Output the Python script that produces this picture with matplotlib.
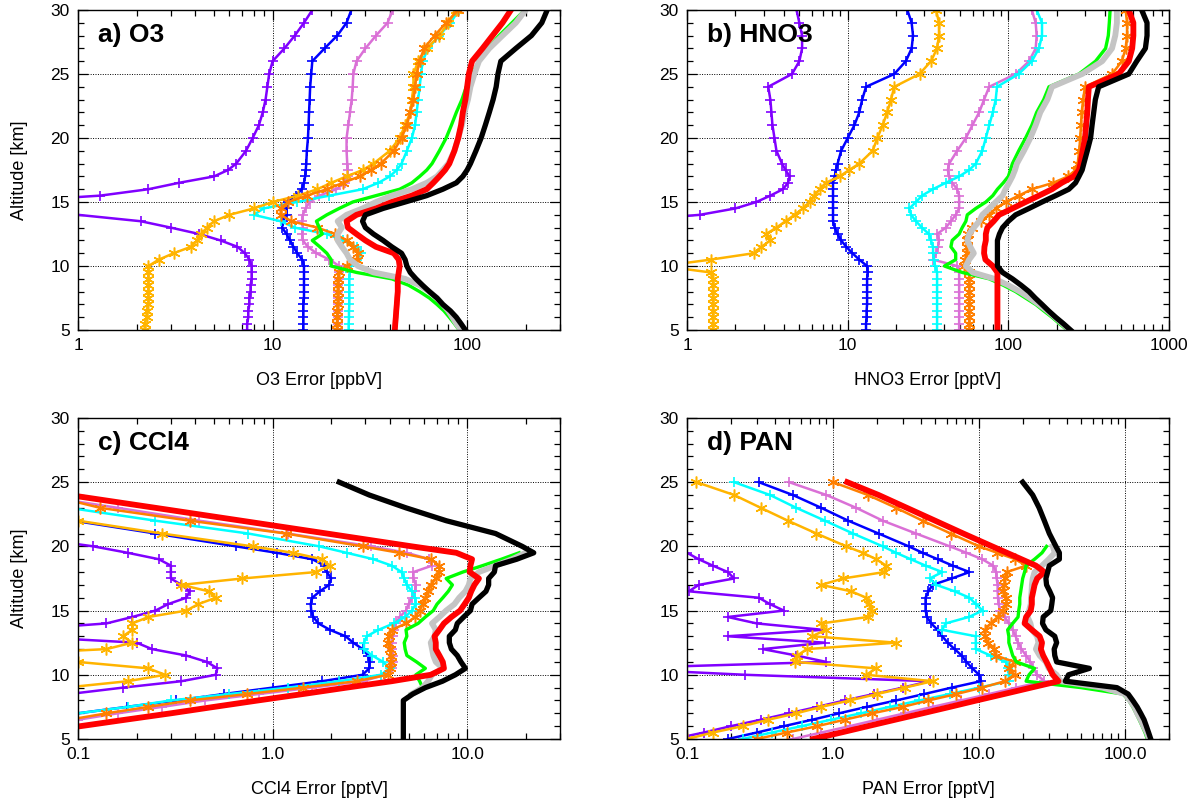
import matplotlib
matplotlib.use('Agg')
import matplotlib.pyplot as plt
import numpy as np
from matplotlib.ticker import MultipleLocator, LogLocator, NullFormatter

plt.rcParams['font.family'] = ['Liberation Sans', 'DejaVu Sans']

nan = np.nan

# altitude grids [km]
alt_ab = [5, 5.5, 6, 6.5, 7, 7.5, 8, 8.5, 9, 9.5,
          10, 10.5, 11, 11.5, 12, 12.5, 13, 13.5, 14, 14.5,
          15, 15.5, 16, 16.5, 17, 17.5, 18,
          19, 20, 21, 22, 23, 24, 25, 26, 27, 28, 29, 30]
alt_cd = [5, 5.5, 6, 6.5, 7, 7.5, 8, 8.5, 9, 9.5,
          10, 10.5, 11, 11.5, 12, 12.5, 13, 13.5, 14, 14.5,
          15, 15.5, 16, 16.5, 17, 17.5, 18, 18.5, 19, 19.5,
          20, 21, 22, 23, 24, 25]

# a) O3 error [ppbV]
o3_purple = [7.4, 7.4, 7.5, 7.5, 7.6, 7.6, 7.7, 7.7, 7.8, 7.8,
             7.8, 7.6, 7.2, 6.6, 5.4, 4.2, 3.0, 2.1, 1.0, 0.4,
             0.4, 1.3, 2.3, 3.3, 5.0, 5.9, 6.5,
             7.3, 7.9, 8.5, 8.9, 9.2, 9.4, 9.6, 10.0, 11.5, 13.0, 14.5, 16.0]
o3_blue = [14.4, 14.4, 14.4, 14.4, 14.4, 14.5, 14.5, 14.5, 14.5, 14.5,
           14.5, 14.2, 13.4, 12.8, 12.3, 11.8, 11.2, 11.3, 11.8, 11.8,
           12.0, 13.2, 14.1, 14.5, 14.7, 14.8, 14.9,
           15.0, 15.2, 15.3, 15.4, 15.5, 15.6, 15.8, 16.0, 18.5, 21.5, 24.0, 25.4]
o3_orchid = [21.6, 21.6, 21.7, 21.7, 21.8, 21.8, 21.8, 21.8, 21.9, 21.9,
             22.0, 19.6, 16.8, 15.2, 14.3, 14.2, 14.3, 14.2, 14.3, 14.8,
             15.5, 17.4, 21.3, 23.5, 24.4, 24.3, 24.2,
             24.0, 24.0, 24.5, 25.0, 25.5, 25.8, 26.0, 27.0, 30.0, 34.0, 39.0, 41.4]
o3_cyan = [24.6, 24.6, 24.7, 24.7, 24.8, 24.8, 24.8, 24.8, 24.8, 24.9,
           25.3, 27.0, 28.5, 27.0, 23.0, 19.0, 13.0, 11.0, 8.0, 9.0,
           13.3, 19.6, 29.0, 35.0, 40.0, 43.5, 46.0,
           49.0, 52.0, 54.0, 55.0, 56.0, 57.0, 58.0, 59.0, 63.0, 72.0, 82.0, 91.0]
o3_yellow = [2.2, 2.2, 2.25, 2.25, 2.3, 2.3, 2.3, 2.3, 2.3, 2.3,
             2.3, 2.6, 3.1, 3.8, 4.1, 4.3, 4.6, 5.0, 6.0, 8.0,
             10.0, 13.5, 17.0, 20.0, 24.0, 29.0, 33.0,
             40.0, 45.0, 48.0, 51.0, 52.0, 53.0, 53.0, 56.0, 62.0, 72.0, 80.0, 88.0]
o3_orange = [21.4, 21.4, 21.5, 21.5, 21.6, 21.6, 21.6, 21.6, 21.6, 22.0,
             24.0, 27.0, 27.5, 26.0, 24.0, 21.0, 17.0, 12.5, 11.0, 11.0,
             12.0, 15.0, 19.0, 23.0, 28.0, 32.0, 36.0,
             42.0, 46.0, 49.0, 51.0, 53.0, 54.0, 55.0, 57.0, 60.0, 68.0, 78.0, 90.0]
o3_green = [91, 86, 81, 76, 70, 64, 57, 50, 41, 27,
            20, 20, 19, 17.5, 16, 18, 17.4, 16.8, 19, 22,
            25.8, 34, 45, 52, 57, 62, 66,
            72, 78, 83, 88, 94, 99, 106, 115, 128, 146, 170, 198]
o3_grey = [93, 88, 84, 80, 75, 70, 64, 57, 48, 33,
           27.5, 25, 24, 22.7, 21.6, 21.6, 22.7, 21.6, 24, 29,
           34, 41, 52, 62, 70, 75, 80,
           86, 90, 94, 97, 101, 104, 109, 115, 130, 152, 178, 200]
o3_red = [42.5, 42.7, 43, 43.2, 43.5, 43.7, 44, 44, 44, 44.5,
          45, 44.5, 42, 34, 30, 27, 24.4, 24, 27, 34,
          41, 52, 62, 67, 72, 77, 81,
          86, 90, 93, 95, 98, 100, 102, 106, 120, 135, 152, 168]
o3_black = [98, 93, 88, 82, 75, 70, 64, 59, 54.6, 51,
            49, 48, 46, 41, 37, 33, 30, 29, 30, 37,
            48, 62, 75, 88, 95, 100, 104,
            111, 118, 124, 130, 136, 141, 144, 149, 178, 214, 242, 258]

# b) HNO3 error [pptV]
hno3_purple = [0.2, 0.2, 0.2, 0.2, 0.2, 0.2, 0.2, 0.2, 0.2, 0.2,
               0.2, 0.2, 0.2, 0.2, 0.2, 0.2, 0.2, 0.4, 1.2, 2.0,
               2.7, 3.3, 3.95, 4.25, 4.35, 4.1, 3.9,
               3.6, 3.5, 3.4, 3.35, 3.3, 3.2, 4.5, 5.0, 5.2, 5.2, 5.0, 4.8]
hno3_blue = [13.0, 13.0, 13.1, 13.1, 13.2, 13.2, 13.2, 13.2, 13.2, 13.3,
             13.2, 11.8, 10.7, 9.8, 9.1, 8.65, 8.3, 8.1, 8.1, 8.1,
             8.1, 8.1, 8.1, 8.1, 8.3, 8.45, 8.65,
             9.1, 10.0, 11.0, 11.8, 12.3, 13.0, 19.5, 23.0, 25.0, 25.5, 25.0, 23.5]
hno3_orchid = [49.4, 49.4, 49.4, 49.4, 49.4, 49.4, 49.4, 49.4, 49.4, 49.4,
               48, 34, 35.5, 36.5, 37, 36, 40.8, 43.9, 47, 49.4,
               49.4, 49.4, 48, 44.7, 42.8, 42, 42.8,
               48, 54.4, 59.7, 65.8, 70.6, 76, 111, 134.5, 148, 150, 148, 140]
hno3_cyan = [36, 36, 36, 36, 36, 36, 36, 36, 36, 36,
             35, 34.5, 34, 34, 33, 32, 29, 26.6, 24.8, 24.2,
             26.6, 29, 33.9, 40.8, 49.4, 57, 62.7,
             68.8, 72.4, 76, 80, 83.4, 85, 116, 140, 155, 162, 162, 150]
hno3_yellow = [1.45, 1.45, 1.45, 1.45, 1.45, 1.45, 1.45, 1.45, 1.45, 1.4,
               0.7, 1.4, 2.6, 2.9, 3.3, 3.1, 3.6, 4.1, 4.67, 5.25,
               5.8, 6.2, 6.7, 7.3, 8.9, 10.2, 11.8,
               14.3, 15.3, 16.5, 17.6, 18.6, 19.5, 28, 33, 36, 37, 37, 35.5]
hno3_orange = [57, 57, 57, 57, 57, 57, 57, 57, 57, 57,
               53, 54, 55, 55, 55, 56, 59.7, 67.4, 76, 83.5,
               96, 116, 140, 190, 235, 262, 270,
               276, 280, 283, 286, 292, 300, 442, 509, 537, 548, 548, 537]
hno3_green = [232, 208, 187, 166, 148, 128, 111, 93, 76, 51.6,
              40, 47, 47, 43.9, 44.7, 49.4, 51.6, 54.4, 55.5, 62.7,
              72.4, 80, 85.5, 93, 100, 103, 106,
              116, 128, 140, 150, 166, 179, 275, 349, 403, 419, 425, 430]
hno3_grey = [240, 217, 195, 175, 155, 136, 118, 100, 82, 60,
             54.4, 57, 61, 58, 55.5, 57, 61, 65.8, 68.8, 76,
             83.5, 92, 96, 101, 106, 110, 113,
             125, 137, 148, 158, 175, 187, 288, 384, 442, 463, 474, 474]
hno3_red = [85.5, 85.5, 85.5, 85.5, 85.5, 85.5, 85.5, 85.5, 85.5, 85.5,
            80, 72, 70.6, 71, 72.4, 72.4, 74, 81, 87.6, 106,
            128, 155, 187, 215, 255, 275, 281,
            290, 300, 305, 310, 313, 317, 486, 562, 590, 600, 600, 562]
hno3_black = [244, 220, 197, 178, 162, 147, 134.5, 120, 106, 92,
              85.5, 85.5, 85.5, 85.5, 85.5, 88, 92, 100, 111, 134.5,
              162, 197, 238, 262, 275, 288, 295,
              310, 325, 332, 340, 348, 365, 562, 630, 713, 730, 730, 676]

# c) CCl4 error [pptV]
ccl4_purple = [0.01, 0.012, 0.015, 0.02, 0.03, 0.045, 0.06, 0.09, 0.17, 0.34,
               0.51, 0.52, 0.46, 0.36, 0.24, 0.2, 0.05, 0.05, 0.14, 0.19,
               0.25, 0.29, 0.36, 0.375, 0.34, 0.30, 0.30, 0.30, 0.26, 0.18,
               0.12, 0.04, 0.015, 0.006, 0.003, 0.001]
ccl4_blue = [0.025, 0.035, 0.05, 0.07, 0.1, 0.178, 0.32, 0.56, 1.0, 1.8,
             2.9, 3.14, 3.15, 3.1, 2.9, 2.6, 2.37, 1.97, 1.72, 1.62,
             1.58, 1.57, 1.6, 1.75, 1.95, 2.0, 1.9, 1.85, 1.6, 1.05,
             0.65, 0.25, 0.095, 0.035, 0.013, 0.005]
ccl4_orchid = [0.02, 0.035, 0.06, 0.1, 0.16, 0.27, 0.45, 0.85, 1.6, 2.9,
               3.8, 4.1, 4.15, 4.15, 4.1, 4.1, 4.15, 4.2, 4.3, 4.5,
               4.85, 5.0, 5.2, 5.4, 5.45, 5.3, 5.3, 6.6, 6.4, 4.9,
               3.2, 1.2, 0.42, 0.16, 0.06, 0.02]
ccl4_cyan = [0.012, 0.02, 0.035, 0.06, 0.1, 0.18, 0.3, 0.6, 1.2, 2.2,
             3.6, 4.0, 3.7, 3.25, 2.95, 2.95, 3.05, 3.5, 4.2, 4.8,
             5.2, 5.45, 5.4, 5.2, 4.9, 4.75, 4.6, 4.1, 3.3, 2.4,
             1.74, 0.75, 0.25, 0.09, 0.03, 0.01]
ccl4_yellow = [0.003, 0.005, 0.008, 0.012, 0.02, 0.03, 0.045, 0.065, 0.086, 0.18,
               0.28, 0.23, 0.1, 0.03, 0.14, 0.19, 0.17, 0.19, 0.19, 0.23,
               0.36, 0.415, 0.51, 0.47, 0.34, 0.70, 1.67, 1.97, 1.8, 1.27,
               0.79, 0.27, 0.1, 0.035, 0.012, 0.004]
ccl4_orange = [0.025, 0.04, 0.06, 0.09, 0.14, 0.23, 0.375, 0.74, 1.43, 2.7,
               3.9, 4.0, 4.05, 4.05, 4.0, 3.9, 3.95, 4.1, 4.85, 5.4,
               5.7, 5.9, 6.1, 6.3, 6.5, 6.9, 7.2, 7.2, 6.5, 4.47,
               2.9, 1.17, 0.375, 0.13, 0.07, 0.03]
ccl4_green = [nan, nan, nan, nan, nan, nan, nan, 5.1, 5.9, 5.7,
              5.45, 6.1, 5.5, 4.9, 4.8, 4.75, 4.9, 4.85, 5.6, 6.1,
              6.7, 7.0, 7.5, 8.0, 8.4, 7.8, 9.5, 12, 15, 18.5,
              nan, nan, nan, nan, nan, nan]
ccl4_grey = [nan, nan, nan, nan, nan, nan, nan, 5.2, 5.9, 6.3,
             6.6, 7.5, 6.9, 6.7, 6.6, 6.5, 6.8, 6.9, 6.6, 7.2,
             7.8, 8.6, 9.1, 9.8, 10.2, 10.4, 11.5, 14, 17, 20,
             nan, nan, nan, nan, nan, nan]
ccl4_red = [0.036, 0.061, 0.103, 0.175, 0.30, 0.50, 0.84, 1.43, 2.4, 4.1,
            6.5, 7.6, 7.5, 7.2, 6.9, 6.9, 6.8, 7.2, 7.6, 8.3,
            9.2, 9.7, 10.2, 10.5, 10.9, 11.5, 10.3, 10.4, 10.6, 8.8,
            5.2, 1.9, 0.69, 0.25, 0.09, 0.035]
ccl4_black = [4.7, 4.7, 4.7, 4.7, 4.7, 4.7, 4.7, 5.25, 6.1, 7.47,
              8.7, 9.8, 9.3, 8.9, 8.3, 8.1, 8.1, 8.7, 8.9, 9.6,
              10.4, 10.6, 11.5, 12.5, 12.9, 12.9, 13.8, 14, 18, 22,
              19.2, 14, 7.8, 4.85, 3.14, 2.2]

# d) PAN error [pptV]
pan_purple = [0.08, 0.13, 0.2, 0.32, 0.5, 0.78, 1.2, 1.9, 3.0, 4.6,
              0.25, 0.03, 0.9, 0.56, 0.33, 0.88, 0.19, 0.85, 0.3, 0.19,
              0.46, 0.37, 0.31, 0.103, 0.12, 0.21, 0.19, 0.15, 0.12, 0.1,
              0.07, 0.04, 0.02, 0.01, 0.005, 0.003]
pan_blue = [0.19, 0.30, 0.46, 0.72, 1.1, 1.7, 2.7, 4.2, 6.5, 10.3,
            10, 9, 8.2, 7.6, 6.8, 6.1, 5.6, 5.2, 4.7, 4.4,
            4.3, 4.3, 4.3, 4.5, 4.8, 6.5, 8.6, 6.6, 5.2, 4.1,
            3.3, 2.05, 1.27, 0.83, 0.53, 0.31]
pan_orchid = [0.53, 0.83, 1.3, 2.0, 3.1, 4.8, 7.5, 11.7, 18, 28,
              25, 23.5, 22.5, 21, 19.5, 18.5, 17.8, 17, 16, 15,
              14, 13.6, 13.5, 13.4, 13.4, 13.2, 13.1, 12.5, 10.5, 8.2,
              6.3, 3.7, 2.19, 1.44, 0.9, 0.5]
pan_cyan = [0.24, 0.38, 0.61, 0.97, 1.55, 2.45, 3.9, 6.3, 10, 16,
            16, 15.8, 15.3, 12, 9.5, 9.5, 9.5, 5.6, 5.9, 8.5,
            10.6, 9.5, 8.6, 6.8, 5.1, 4.6, 5.6, 4.3, 3.4, 2.7,
            2.19, 1.37, 0.88, 0.56, 0.37, 0.21]
pan_yellow = [0.1, 0.15, 0.24, 0.36, 0.56, 0.83, 1.3, 2.0, 3.1, 4.8,
              1.69, 1.97, 0.55, 0.57, 0.66, 2.7, 0.72, 0.89, 0.83, 1.73,
              1.85, 1.77, 1.69, 1.33, 0.83, 1.17, 2.25, 2.31, 1.97, 1.6,
              1.23, 0.77, 0.49, 0.32, 0.21, 0.116]
pan_orange = [0.3, 0.48, 0.78, 1.2, 1.86, 3.0, 4.5, 7.0, 10.5, 15,
              17.5, 16, 17.5, 13, 12.6, 11.5, 10.9, 11, 12, 13.4,
              14.5, 15.4, 15.4, 14.5, 14.9, 15, 15.5, 21, 17.7, 13.3,
              10, 6.4, 4.1, 2.7, 1.73, 1.0]
pan_green = [142, 137, 131, 125, 119, 113, 106, 97, 50, 21,
             22, 24, 18, 17, 16.5, 16, 16, 15.7, 17, 18.5,
             18.7, 19, 19, 19.3, 19.6, 19.9, 20.5, 21, 24, 27,
             29, nan, nan, nan, nan, nan]
pan_grey = [146, 141, 134, 128, 121, 116, 108, 100, 70, 36,
            34, 30, 28.7, 26, 24.5, 25.5, 25, 23, 22.5, 21.5,
            22, 22.6, 22.7, 22.9, 23, 23.3, 24, 27, 30, 33,
            32, nan, nan, nan, nan, nan]
pan_red = [0.73, 1.13, 1.73, 2.66, 4.1, 6.3, 9.6, 14.8, 22.7, 35,
           32, 30.5, 29, 27.5, 26.5, 27, 26, 23, 20.5, 21,
           22.6, 23, 23, 23.5, 24, 25, 28, 24.5, 19.5, 15.5,
           12.3, 7.8, 5.0, 3.2, 2.05, 1.25]
pan_black = [150, 145, 140, 135, 128, 121, 113, 105, 88, 39,
             41, 57, 34, 33, 32.7, 34, 33, 28.7, 27.2, 27.5,
             31, 31.5, 31.9, 30.5, 29, 28.7, 29.5, 30.3, 35.5, 35.5,
             33.6, 30.3, 28, 25.8, 23.3, 19.9]

ORDER = ['purple', 'blue', 'orchid', 'cyan', 'yellow', 'orange',
         'green', 'grey', 'red', 'black']
ASTER = (6, 2, 0)
STYLES = {
    'purple': dict(color='#8000FF', lw=1.8, marker='+', ms=7, mew=1.2),
    'blue': dict(color='#0000FF', lw=1.8, marker='+', ms=7, mew=1.2),
    'orchid': dict(color='#DA70D6', lw=1.8, marker='+', ms=7, mew=1.2),
    'cyan': dict(color='#00FFFF', lw=1.8, marker='+', ms=7, mew=1.2),
    'yellow': dict(color='#FFB400', lw=1.8, marker=ASTER, ms=8.5, mew=1.1),
    'orange': dict(color='#FF7F00', lw=1.8, marker=ASTER, ms=8.5, mew=1.1),
    'green': dict(color='#00FF00', lw=2.4),
    'grey': dict(color='#C4C4C4', lw=4.2),
    'red': dict(color='#FF0000', lw=4.2),
    'black': dict(color='#000000', lw=3.8),
}

panels = [
    dict(alt=alt_ab, rect=[0.0652, 0.590, 0.4026, 0.3976], title='a) O3',
         xlabel='O3 Error [ppbV]', ylabel='Altitude [km]', xlim=(1, 300),
         xticks=[1, 10, 100], xticklabels=['1', '10', '100'],
         data=dict(purple=o3_purple, blue=o3_blue, orchid=o3_orchid, cyan=o3_cyan,
                   yellow=o3_yellow, orange=o3_orange, green=o3_green,
                   grey=o3_grey, red=o3_red, black=o3_black)),
    dict(alt=alt_ab, rect=[0.5740, 0.590, 0.4026, 0.3976], title='b) HNO3',
         xlabel='HNO3 Error [pptV]', ylabel=None, xlim=(1, 1000),
         xticks=[1, 10, 100, 1000], xticklabels=['1', '10', '100', '1000'],
         data=dict(purple=hno3_purple, blue=hno3_blue, orchid=hno3_orchid, cyan=hno3_cyan,
                   yellow=hno3_yellow, orange=hno3_orange, green=hno3_green,
                   grey=hno3_grey, red=hno3_red, black=hno3_black)),
    dict(alt=alt_cd, rect=[0.0652, 0.082, 0.4026, 0.3988], title='c) CCl4',
         xlabel='CCl4 Error [pptV]', ylabel='Altitude [km]', xlim=(0.1, 30),
         xticks=[0.1, 1, 10], xticklabels=['0.1', '1.0', '10.0'],
         data=dict(purple=ccl4_purple, blue=ccl4_blue, orchid=ccl4_orchid, cyan=ccl4_cyan,
                   yellow=ccl4_yellow, orange=ccl4_orange, green=ccl4_green,
                   grey=ccl4_grey, red=ccl4_red, black=ccl4_black)),
    dict(alt=alt_cd, rect=[0.5740, 0.082, 0.4026, 0.3988], title='d) PAN',
         xlabel='PAN Error [pptV]', ylabel=None, xlim=(0.1, 200),
         xticks=[0.1, 1, 10, 100], xticklabels=['0.1', '1.0', '10.0', '100.0'],
         data=dict(purple=pan_purple, blue=pan_blue, orchid=pan_orchid, cyan=pan_cyan,
                   yellow=pan_yellow, orange=pan_orange, green=pan_green,
                   grey=pan_grey, red=pan_red, black=pan_black)),
]

fig = plt.figure(figsize=(11.97, 8.05), dpi=100)

for p in panels:
    ax = fig.add_axes(p['rect'])
    for name in ORDER:
        ax.plot(p['data'][name], p['alt'], **STYLES[name])
    ax.set_xscale('log')
    ax.set_xlim(*p['xlim'])
    ax.set_ylim(5, 30)
    ax.set_xticks(p['xticks'])
    ax.set_xticklabels(p['xticklabels'])
    ax.xaxis.set_minor_locator(LogLocator(base=10, subs=np.arange(2, 10)))
    ax.xaxis.set_minor_formatter(NullFormatter())
    ax.set_yticks([5, 10, 15, 20, 25, 30])
    ax.yaxis.set_minor_locator(MultipleLocator(1))
    ax.tick_params(which='both', direction='in', top=True, right=True,
                   labelsize=12.5, width=0.9)
    ax.tick_params(which='major', length=7, pad=6)
    ax.tick_params(which='minor', length=4)
    ax.grid(which='major', linestyle=(0, (1, 1.5)), color='black', linewidth=0.7)
    for s in ax.spines.values():
        s.set_linewidth(1.0)
    ax.text(0.042, 0.96, p['title'], transform=ax.transAxes, fontsize=19,
            fontweight='bold', va='top', ha='left')
    ax.set_xlabel(p['xlabel'], fontsize=13)
    ax.xaxis.set_label_coords(0.5, -0.13)
    if p['ylabel']:
        ax.set_ylabel(p['ylabel'], fontsize=13)
        ax.yaxis.set_label_coords(-0.103, 0.5)

fig.savefig('out.png', dpi=100)
